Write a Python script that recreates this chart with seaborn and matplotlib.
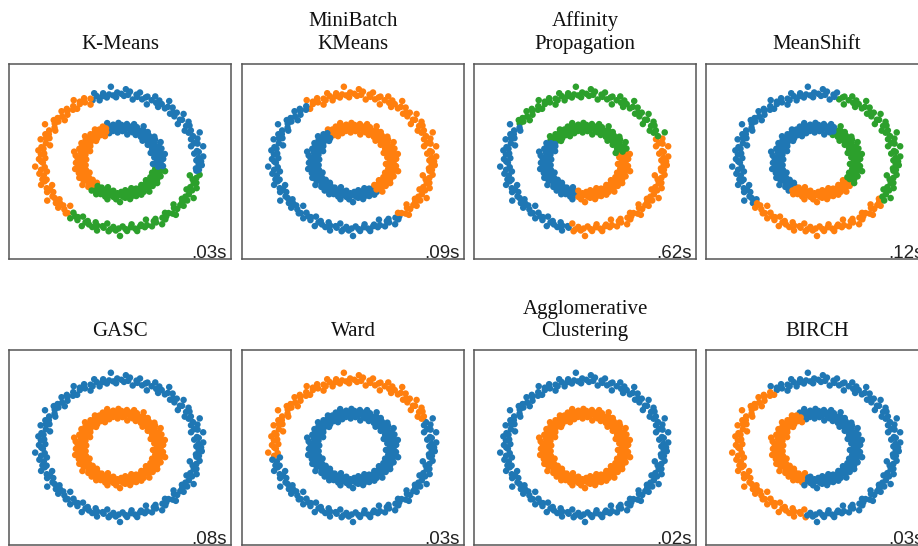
import numpy as np
import pandas as pd
import matplotlib
matplotlib.use("Agg")
import matplotlib.pyplot as plt
import seaborn as sns

# Noisy two-ring sample: angle in degrees, radius in hundredths of the outer ring radius
outer_deg = [0, 1, 3, 4, 7, 8, 9, 12, 14, 15, 16, 19, 20, 22, 23, 26, 27, 29, 31, 32, 34, 37, 38, 39, 41,
             44, 45, 47, 48, 50, 53, 54, 55, 58, 59, 61, 62, 65, 66, 68, 70, 71, 73, 76, 77, 78, 80, 83,
             84, 86, 87, 89, 92, 93, 95, 96, 98, 100, 102, 103, 106, 107, 108, 111, 112, 114, 116, 117,
             120, 121, 123, 125, 126, 128, 131, 132, 134, 135, 138, 139, 141, 143, 144, 146, 149, 150,
             151, 153, 156, 157, 159, 160, 162, 164, 165, 168, 169, 171, 173, 174, 177, 178, 180, 181,
             184, 185, 187, 189, 190, 192, 195, 196, 197, 199, 202, 203, 205, 206, 208, 211, 212, 213,
             216, 217, 219, 221, 222, 225, 226, 228, 229, 232, 233, 235, 237, 238, 240, 243, 244, 245,
             247, 250, 251, 253, 254, 257, 258, 260, 262, 263, 265, 267, 269, 270, 272, 274, 275, 278,
             279, 281, 282, 285, 286, 288, 290, 291, 293, 296, 297, 298, 300, 303, 304, 306, 307, 309,
             311, 312, 315, 316, 317, 320, 321, 323, 325, 326, 328, 330, 331, 334, 335, 337, 338, 341,
             342, 344, 346, 347, 349, 352, 353, 354, 357, 358]
outer_r = [103, 97, 100, 106, 95, 101, 99, 108, 93, 102, 98, 104, 96, 100, 110, 97, 101, 94, 103, 99, 105,
           92, 100, 98, 107, 96, 102, 99, 95, 104, 101, 97, 109, 100, 94, 103, 98, 106, 99, 91, 102, 100,
           96, 105, 98, 101, 93, 104, 99, 107, 97, 100, 102, 95, 98, 111, 100, 96, 103, 99, 94, 101, 106,
           97, 100, 92, 104, 98, 102, 99, 108, 95, 101, 97, 103, 100, 96, 105, 99, 93, 102, 98, 104, 100,
           97, 110, 94, 101, 99, 103, 96, 100, 106, 98, 92, 102, 99, 105, 97, 101, 95, 103, 100, 98, 108,
           96, 101, 94, 104, 99, 102, 97, 100, 106, 93, 101, 98, 103, 96, 100, 109, 99, 95, 102, 98, 104,
           97, 100, 91, 103, 101, 96, 105, 99, 98, 102, 94, 107, 100, 97, 101, 103, 95, 99, 106, 98, 100,
           93, 104, 101, 97, 102, 99, 110, 96, 100, 103, 98, 94, 101, 105, 99, 97, 102, 100, 92, 104, 98,
           101, 96, 107, 99, 103, 100, 95, 98, 102, 106, 97, 101, 93, 100, 104, 99, 96, 103, 98, 108, 100,
           94, 101, 97, 105, 99, 102, 96, 100, 91, 103, 98, 101, 97, 104, 100, 95, 102, 99, 107, 98, 93,
           101, 100, 96, 104, 99, 102, 97, 109, 100, 95, 103, 98, 101, 94, 106, 99, 100, 97, 102, 104, 96]
inner_deg = [1, 2, 4, 6, 8, 9, 11, 13, 14, 17, 18, 20, 22, 24, 25, 27, 29, 31, 32, 35, 36, 38, 40, 41, 43,
             46, 47, 49, 51, 52, 54, 56, 58, 60, 61, 63, 65, 67, 68, 70, 72, 74, 76, 77, 79, 81, 83, 85,
             86, 88, 90, 92, 94, 95, 97, 99, 101, 103, 104, 106, 108, 110, 112, 113, 115, 117, 119, 121,
             122, 124, 126, 128, 130, 131, 133, 135, 137, 139, 140, 142, 144, 146, 148, 149, 151, 153,
             155, 157, 158, 160, 162, 164, 166, 167, 169, 171, 173, 175, 176, 178, 180, 182, 184, 185,
             187, 189, 191, 193, 194, 196, 198, 200, 202, 203, 205, 207, 209, 211, 212, 214, 216, 218,
             220, 221, 223, 225, 227, 229, 230, 232, 234, 236, 238, 239, 241, 243, 245, 247, 248, 250,
             252, 254, 256, 257, 259, 261, 263, 265, 266, 268, 270, 272, 274, 275, 277, 279, 281, 283,
             284, 286, 288, 290, 292, 293, 295, 297, 299, 301, 302, 304, 306, 308, 310, 311, 313, 315,
             317, 319, 320, 322, 324, 326, 328, 329, 331, 333, 335, 337, 338, 340, 342, 344, 346, 347,
             349, 351, 353, 355, 356, 358]
inner_r = [52, 47, 55, 49, 44, 51, 58, 46, 53, 50, 41, 56, 48, 54, 45, 50, 59, 47, 52, 43, 55, 49, 57, 46,
           51, 53, 42, 48, 56, 50, 45, 54, 47, 60, 52, 44, 49, 55, 51, 46, 58, 48, 53, 41, 50, 56, 47, 52,
           45, 54, 49, 57, 43, 51, 48, 55, 46, 53, 50, 59, 44, 52, 47, 56, 49, 42, 54, 51, 46, 57, 48, 53,
           45, 50, 55, 43, 52, 47, 58, 49, 54, 46, 51, 44, 56, 50, 48, 53, 41, 55, 47, 52, 60, 45, 50, 57,
           48, 54, 43, 51, 46, 56, 49, 53, 44, 50, 58, 47, 52, 45, 55, 48, 51, 42, 57, 49, 54, 46, 53, 50,
           59, 44, 52, 47, 55, 48, 43, 51, 56, 46, 53, 49, 57, 45, 50, 54, 47, 52, 41, 55, 48, 58, 46, 51,
           44, 53, 49, 56, 47, 50, 60, 45, 52, 48, 54, 43, 51, 57, 46, 50, 53, 42, 55, 48, 52, 45, 56, 49,
           47, 54, 51, 44, 58, 48, 53, 46, 50, 55, 43, 52, 47, 57, 49, 45, 54, 51, 48, 56, 44, 50, 53, 47,
           59, 46, 52, 49, 55, 42, 51, 48, 54]

titles = ["K-Means", "MiniBatch\nKMeans", "Affinity\nPropagation", "MeanShift",
          "GASC", "Ward", "Agglomerative\nClustering", "BIRCH"]
times = [".03s", ".09s", ".62s", ".12s", ".08s", ".03s", ".02s", ".03s"]

# Cluster membership per method as arcs (start_deg, end_deg, cluster), counterclockwise
outer_arcs = [
    [(-10, 112, 0), (112, 232, 1), (232, 350, 2)],
    [(-53, 126, 1), (126, 307, 0)],
    [(22, 147, 2), (147, 260, 0), (260, 382, 1)],
    [(75, 219, 0), (219, 326, 1), (326, 435, 2)],
    [(0, 360, 0)],
    [(24, 188, 1), (188, 384, 0)],
    [(0, 360, 0)],
    [(125, 263, 1), (263, 485, 0)],
]
inner_arcs = [
    [(-10, 110, 0), (110, 230, 1), (230, 350, 2)],
    [(-55, 128, 1), (128, 305, 0)],
    [(16, 145, 2), (145, 258, 0), (258, 376, 1)],
    [(64, 233, 0), (233, 325, 1), (325, 424, 2)],
    [(0, 360, 1)],
    [(0, 360, 0)],
    [(0, 360, 1)],
    [(115, 254, 1), (254, 475, 0)],
]

palette = {0: "#1f77b4", 1: "#ff7f0e", 2: "#2ca02c"}


def ring_frame(degs, radii, ring):
    pairs = list(zip(degs, radii))
    a = np.array([p[0] for p in pairs], dtype=float)
    r = np.array([p[1] for p in pairs], dtype=float) / 100.0
    t = np.deg2rad(a)
    return pd.DataFrame({"deg": a, "x": r * np.cos(t), "y": r * np.sin(t), "ring": ring})


def assign(deg, arcs):
    lab = np.zeros(len(deg), dtype=int)
    for start, end, c in arcs:
        span = (end - start) % 360 or 360
        lab[((deg - start) % 360) < span] = c
    return lab


outer = ring_frame(outer_deg, outer_r, "outer")
inner = ring_frame(inner_deg, inner_r, "inner")

sns.set_style("white")
plt.rcParams["font.family"] = ["Liberation Serif", "DejaVu Serif"]

W, H = 918, 546
fig = plt.figure(figsize=(W / 100, H / 100), dpi=100)

col_left = [9, 242, 474, 706]
row_top = [64, 350]
pw, ph = 222, 195

for i in range(8):
    row, col = divmod(i, 4)
    left = col_left[col] / W
    bottom = 1 - (row_top[row] + ph) / H
    ax = fig.add_axes([left, bottom, pw / W, ph / H])

    o = outer.assign(cluster=assign(outer["deg"].values, outer_arcs[i]))
    n = inner.assign(cluster=assign(inner["deg"].values, inner_arcs[i]))
    pts = pd.concat([o, n], ignore_index=True)

    sns.scatterplot(data=pts, x="x", y="y", hue="cluster", palette=palette,
                    s=22, linewidth=0, legend=False, ax=ax)

    ax.set_xlim(-1.41, 1.41)
    ax.set_ylim(-1.44, 1.44)
    ax.set_xticks([])
    ax.set_yticks([])
    ax.set_xlabel("")
    ax.set_ylabel("")
    for sp in ax.spines.values():
        sp.set_color("#555555")
        sp.set_linewidth(1.1)

    ax.set_title(titles[i], fontsize=15, pad=11 if row == 0 else 10,
                 linespacing=1.25, color="#111111")
    ax.text(0.982, 0.006, times[i], transform=ax.transAxes, ha="right", va="baseline",
            fontsize=13.5, family=["Liberation Sans", "DejaVu Sans"], color="#222222")

fig.savefig("out.png", dpi=100)
